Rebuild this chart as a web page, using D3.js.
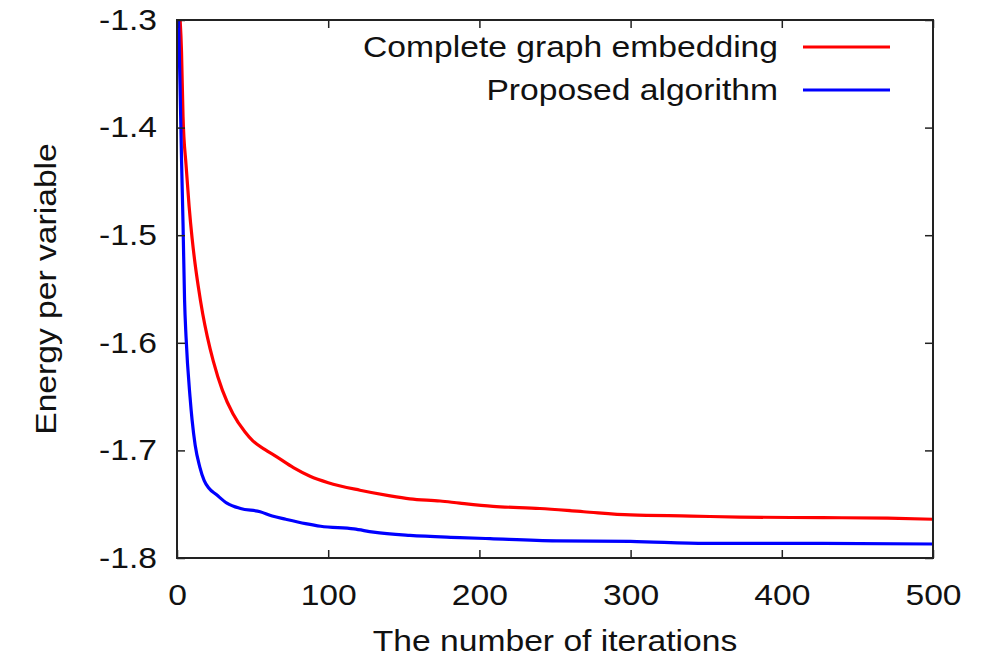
<!DOCTYPE html>
<html><head><meta charset="utf-8">
<script src="https://cdn.jsdelivr.net/npm/d3@7"></script>
<style>
body{margin:0;background:#fff;}
text{font-family:"Liberation Sans",Arial,Helvetica,sans-serif;}
</style></head>
<body><svg id="c" width="983" height="660"></svg>
<script>
const seriesNames = ["Complete graph embedding", "Proposed algorithm"];
const seriesColors = ["#ff0000", "#0000ff"];
const redIter = [0,1,3,4,6,8,10,12,14,17,20,24,30,37,45,50,58,66,77,88,100,121,140,154,174,187,209,240,269,300,340,372,427,470,500];
const redVal  = [-1.22,-1.27,-1.33,-1.39,-1.435,-1.473,-1.503,-1.527,-1.547,-1.573,-1.594,-1.617,-1.644,-1.666,-1.683,-1.691,-1.699,-1.706,-1.716,-1.724,-1.730,-1.737,-1.742,-1.745,-1.747,-1.749,-1.752,-1.754,-1.757,-1.760,-1.761,-1.762,-1.7625,-1.763,-1.764];
const blueIter = [0,1,2,3,4,5,6,8.6,10,12,15,18,21,26,33,42,55,63,72,85,95,117,130,154,187,207,251,300,350,427,500];
const blueVal  = [-1.25,-1.30,-1.36,-1.43,-1.49,-1.56,-1.595,-1.650,-1.672,-1.695,-1.715,-1.728,-1.735,-1.741,-1.749,-1.754,-1.757,-1.761,-1.764,-1.768,-1.7705,-1.773,-1.776,-1.779,-1.781,-1.782,-1.784,-1.7845,-1.7865,-1.7865,-1.787];
const xTicks = [0,100,200,300,400,500];
const yTicks = [-1.3,-1.4,-1.5,-1.6,-1.7,-1.8];
const xTitle = "The number of iterations";
const yTitle = "Energy per variable";

const svg = d3.select("#c");
const L=177, R=933, T=20, B=558;
const x = d3.scaleLinear().domain([0,500]).range([L,R]);
const y = d3.scaleLinear().domain([-1.8,-1.3]).range([B,T]);
const fs = 29, sx = 1.16, tk = 8;

svg.append("defs").append("clipPath").attr("id","clip")
  .append("rect").attr("x",L).attr("y",T).attr("width",R-L).attr("height",B-T);

const series = [
  {name:seriesNames[0], color:seriesColors[0], pts:redIter.map((d,i)=>[d,redVal[i]])},
  {name:seriesNames[1], color:seriesColors[1], pts:blueIter.map((d,i)=>[d,blueVal[i]])}
];
const line = d3.line().x(d=>x(d[0])).y(d=>y(d[1])).curve(d3.curveMonotoneX);
const g = svg.append("g").attr("clip-path","url(#clip)");
series.forEach(s=>{
  g.append("path").attr("d",line(s.pts)).attr("fill","none")
   .attr("stroke",s.color).attr("stroke-width",3.2).attr("stroke-linejoin","round");
});

function styleAxis(sel){
  sel.select(".domain").remove();
  sel.selectAll(".tick line").attr("stroke","#222").attr("stroke-width",1.5);
  sel.selectAll("text").attr("font-size",fs).attr("fill","#111")
    .attr("font-family","'Liberation Sans',Arial,sans-serif");
}
const xb = svg.append("g").attr("transform",`translate(0,${B})`)
  .call(d3.axisBottom(x).tickValues(xTicks).tickSizeInner(-tk).tickSizeOuter(0).tickFormat(d3.format("d")));
styleAxis(xb);
xb.selectAll("text").attr("y",0).attr("dy","0.35em").attr("transform",`translate(0,37) scale(${sx},1)`);
const xt = svg.append("g").attr("transform",`translate(0,${T})`)
  .call(d3.axisTop(x).tickValues(xTicks).tickSizeInner(-tk).tickSizeOuter(0).tickFormat(""));
styleAxis(xt);
const yl = svg.append("g").attr("transform",`translate(${L},0)`)
  .call(d3.axisLeft(y).tickValues(yTicks).tickSizeInner(-tk).tickSizeOuter(0).tickFormat(d3.format(".1f")));
styleAxis(yl);
yl.selectAll("text").attr("x",0).attr("transform",`translate(-20,0) scale(${sx},1)`)
  .text(d=>d3.format(".1f")(d).replace("\u2212","-"));
const yr = svg.append("g").attr("transform",`translate(${R},0)`)
  .call(d3.axisRight(y).tickValues(yTicks).tickSizeInner(-tk).tickSizeOuter(0).tickFormat(""));
styleAxis(yr);

svg.append("rect").attr("x",L).attr("y",T).attr("width",R-L).attr("height",B-T)
  .attr("fill","none").attr("stroke","#222").attr("stroke-width",2);

svg.append("text").attr("transform",`translate(${(L+R)/2},641) scale(${sx},1)`).attr("dy","0.35em")
  .attr("text-anchor","middle").attr("font-size",fs).attr("fill","#111").text(xTitle);
svg.append("text").attr("transform",`translate(46,${(T+B)/2}) rotate(-90) scale(${sx},1)`).attr("dy","0.35em")
  .attr("text-anchor","middle").attr("font-size",fs).attr("fill","#111").text(yTitle);

const legY = [47,90];
series.forEach((s,i)=>{
  svg.append("text").attr("transform",`translate(778,${legY[i]}) scale(${sx},1)`).attr("dy","0.35em")
    .attr("text-anchor","end").attr("font-size",fs).attr("fill","#111").text(s.name);
  svg.append("line").attr("x1",803).attr("x2",890).attr("y1",legY[i]).attr("y2",legY[i])
    .attr("stroke",s.color).attr("stroke-width",3.2);
});
</script></body></html>
